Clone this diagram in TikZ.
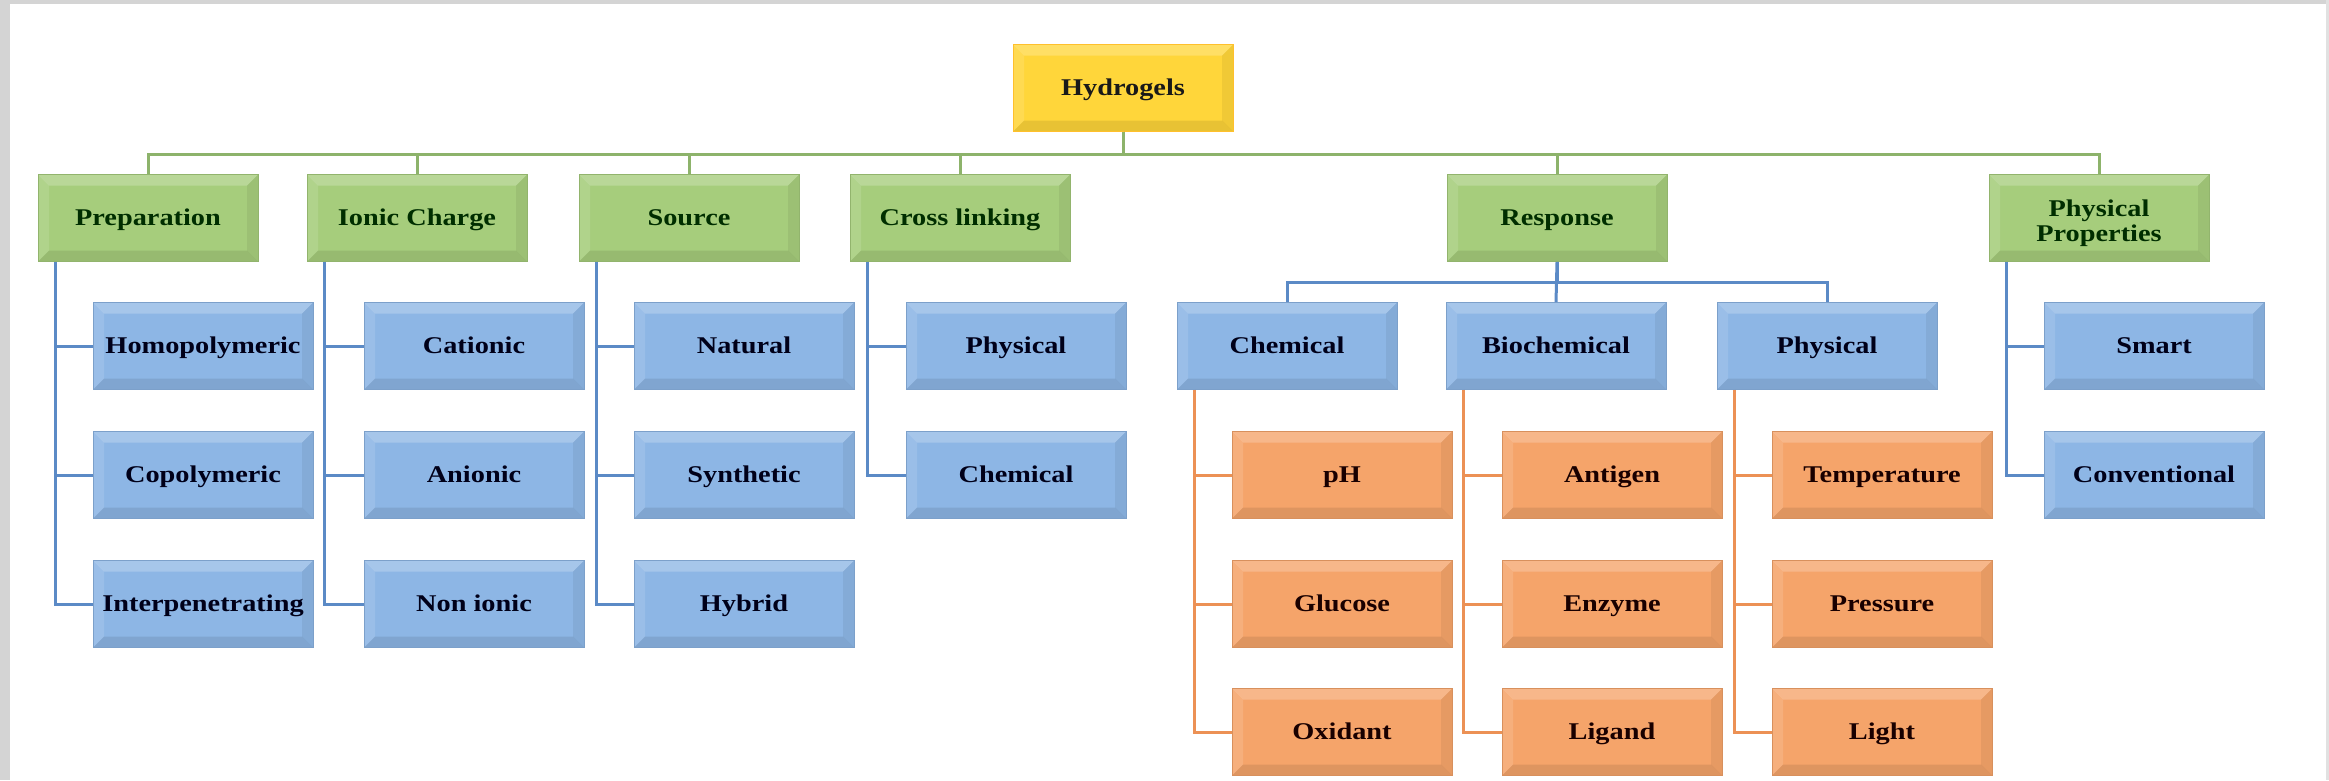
\documentclass[tikz,border=0pt]{standalone}
\usepackage{fontspec}
\setmainfont{Liberation Serif}[FakeStretch=1.18]
\definecolor{gfill}{HTML}{A6CD7C}
\definecolor{bfill}{HTML}{8DB6E5}
\definecolor{ofill}{HTML}{F5A46A}
\definecolor{yfill}{HTML}{FFD63A}
\definecolor{glinec}{HTML}{8DB36B}
\definecolor{blinec}{HTML}{5B8AC6}
\definecolor{olinec}{HTML}{EC9155}
\definecolor{framegray}{HTML}{D4D4D4}
\def\bvsz{11pt}
\tikzset{
  bevel/.style={path picture={
    \fill[white,opacity=0.22] (path picture bounding box.north west) -- (path picture bounding box.north east)
      -- ([xshift=-\bvsz,yshift=-\bvsz]path picture bounding box.north east) -- ([xshift=\bvsz,yshift=-\bvsz]path picture bounding box.north west) -- cycle;
    \fill[white,opacity=0.12] (path picture bounding box.north west) -- (path picture bounding box.south west)
      -- ([xshift=\bvsz,yshift=\bvsz]path picture bounding box.south west) -- ([xshift=\bvsz,yshift=-\bvsz]path picture bounding box.north west) -- cycle;
    \fill[black,opacity=0.09] (path picture bounding box.south west) -- (path picture bounding box.south east)
      -- ([xshift=-\bvsz,yshift=\bvsz]path picture bounding box.south east) -- ([xshift=\bvsz,yshift=\bvsz]path picture bounding box.south west) -- cycle;
    \fill[black,opacity=0.06] (path picture bounding box.north east) -- (path picture bounding box.south east)
      -- ([xshift=-\bvsz,yshift=\bvsz]path picture bounding box.south east) -- ([xshift=-\bvsz,yshift=-\bvsz]path picture bounding box.north east) -- cycle;
  }},
  boxbase/.style={rectangle, minimum width=220pt, minimum height=87pt, inner sep=2pt, align=center,
    font=\bfseries\fontsize{24}{25}\selectfont, line width=0.8pt, bevel},
  box/.style={boxbase, text height=20pt, text depth=6pt},
  ybox/.style={box, fill=yfill, draw=yfill!75!orange, text=black!90},
  gcol/.style={fill=gfill, draw=gfill!88!black, text={black!70!green!60!black}},
  gbox/.style={box, gcol},
  gboxtwo/.style={boxbase, gcol, text height=52pt, text depth=6pt},
  bbox/.style={box, fill=bfill, draw=bfill!88!black, text={black!75!blue!40!black}},
  obox/.style={box, fill=ofill, draw=ofill!88!black, text={black!75!red!40!black}},
  gconn/.style={draw=glinec, line width=3pt},
  bconn/.style={draw=blinec, line width=3pt},
  oconn/.style={draw=olinec, line width=3pt},
}
\begin{document}
\begin{tikzpicture}[x=1pt,y=-1pt]
  % background and frame
  \fill[white] (0,0) rectangle (2329,780);
  \fill[framegray] (0,0) rectangle (10,780);
  \fill[framegray] (0,0) rectangle (2329,4);
  \fill[framegray!70] (2326,0) rectangle (2329,780);

  % root
  \node[ybox] (hyd) at (1123,88) {Hydrogels};

  % level 1
  \node[gbox] (prep) at (148,218) {Preparation};
  \node[gbox] (ionic) at (417,218) {Ionic Charge};
  \node[gbox] (src) at (689,218) {Source};
  \node[gbox] (cross) at (960,218) {Cross linking};
  \node[gbox] (resp) at (1557,218) {Response};
  \node[gboxtwo] (pprop) at (2099,218) {Physical\\Properties};

  % preparation children
  \node[bbox] (homo) at (203,346) {Homopolymeric};
  \node[bbox] (copo) at (203,475) {Copolymeric};
  \node[bbox] (inter) at (203,604) {Interpenetrating};
  % ionic children
  \node[bbox] (cat) at (474,346) {Cationic};
  \node[bbox] (ani) at (474,475) {Anionic};
  \node[bbox] (non) at (474,604) {Non ionic};
  % source children
  \node[bbox] (nat) at (744,346) {Natural};
  \node[bbox] (syn) at (744,475) {Synthetic};
  \node[bbox] (hyb) at (744,604) {Hybrid};
  % cross linking children
  \node[bbox] (cphys) at (1016,346) {Physical};
  \node[bbox] (cchem) at (1016,475) {Chemical};
  % response children
  \node[bbox] (rchem) at (1287,346) {Chemical};
  \node[bbox] (rbio) at (1556,346) {Biochemical};
  \node[bbox] (rphys) at (1827,346) {Physical};
  % physical properties children
  \node[bbox] (smart) at (2154,346) {Smart};
  \node[bbox] (conv) at (2154,475) {Conventional};
  % chemical stimuli
  \node[obox] (ph) at (1342,475) {pH};
  \node[obox] (glu) at (1342,604) {Glucose};
  \node[obox] (oxi) at (1342,732) {Oxidant};
  % biochemical stimuli
  \node[obox] (anti) at (1612,475) {Antigen};
  \node[obox] (enz) at (1612,604) {Enzyme};
  \node[obox] (lig) at (1612,732) {Ligand};
  % physical stimuli
  \node[obox] (temp) at (1882,475) {Temperature};
  \node[obox] (pres) at (1882,604) {Pressure};
  \node[obox] (light) at (1882,732) {Light};

  % root to level 1
  \foreach \n in {prep,ionic,src,cross,resp,pprop}
    \draw[gconn] (hyd.south) |- ([yshift=20pt]\n.north) -- (\n.north);

  % left-bus children
  \foreach \p/\c in {prep/homo,prep/copo,prep/inter,ionic/cat,ionic/ani,ionic/non,src/nat,src/syn,src/hyb,cross/cphys,cross/cchem,pprop/smart,pprop/conv}
    \draw[bconn] ([xshift=18pt]\p.south west) |- (\c.west);

  % response sub-bus
  \draw[bconn] (resp.south) -- (rbio.north);
  \draw[bconn] (resp.south) |- ([yshift=20pt]rchem.north) -- (rchem.north);
  \draw[bconn] (resp.south) |- ([yshift=20pt]rphys.north) -- (rphys.north);

  % stimuli
  \foreach \p/\c in {rchem/ph,rchem/glu,rchem/oxi,rbio/anti,rbio/enz,rbio/lig,rphys/temp,rphys/pres,rphys/light}
    \draw[oconn] ([xshift=18pt]\p.south west) |- (\c.west);
\end{tikzpicture}
\end{document}
